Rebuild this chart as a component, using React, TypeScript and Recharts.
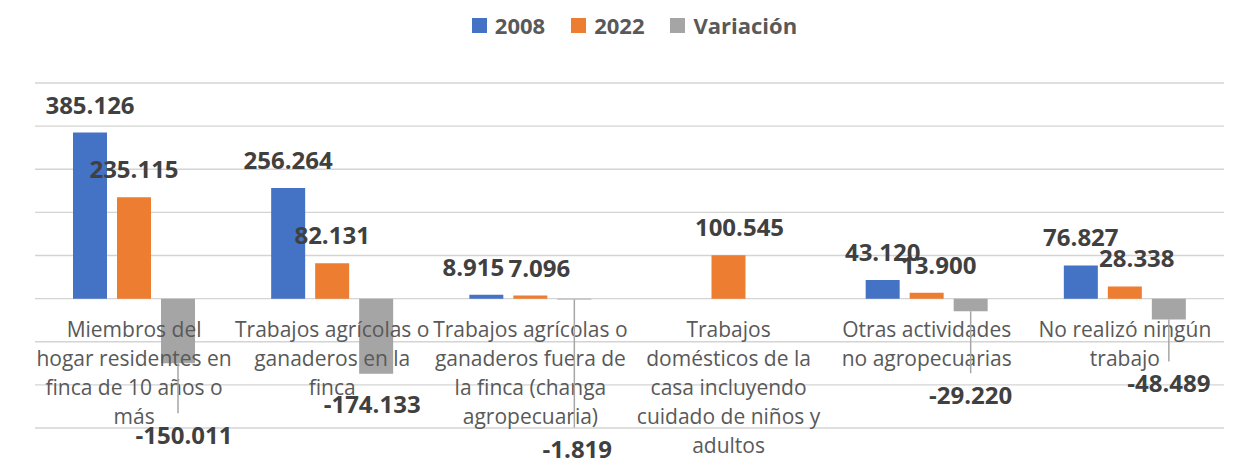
import React from 'react';
import { BarChart, Bar, XAxis, YAxis, CartesianGrid, LabelList, Legend } from 'recharts';

const categories = [
  'Miembros del hogar residentes en finca de 10 años o más',
  'Trabajos agrícolas o ganaderos en la finca',
  'Trabajos agrícolas o ganaderos fuera de la finca (changa agropecuaria)',
  'Trabajos domésticos de la casa incluyendo cuidado de niños y adultos',
  'Otras actividades no agropecuarias',
  'No realizó ningún trabajo',
];
const values2008 = [385.126, 256.264, 8.915, null, 43.12, 76.827];
const values2022 = [235.115, 82.131, 7.096, 100.545, 13.9, 28.338];
const valuesVariacion = [-150.011, -174.133, -1.819, null, -29.22, -48.489];
const yTicks = [-300, -200, -100, 0, 100, 200, 300, 400, 500];

const seriesNames = ['2008', '2022', 'Variación'];
const seriesColors = ['#4472C4', '#ED7D31', '#A5A5A5'];

// label nudges (px), Excel moved a few labels around to avoid overlaps
const dx2008 = [0, 0, -13, 0, 0, 0];
const dx2022 = [0, 0, 9, 11, 12, 12];
const dxVar = [6, -4, 3, 0, 0, 0];
const dropVar = [72, 31, 150, 0, 84, 64];

const W = 1239;
const H = 466;
const MARGIN = { top: 43, right: 15, left: 35, bottom: 0 };
const LEGEND_H = 40;
const X_AXIS_H = 38;
const PLOT_TOP = MARGIN.top + LEGEND_H;
const PLOT_H = H - PLOT_TOP - X_AXIS_H;
const ZERO_Y = PLOT_TOP + (PLOT_H * yTicks[yTicks.length - 1]) / (yTicks[yTicks.length - 1] - yTicks[0]);

const FONT = '"Open Sans", sans-serif';
const CAT_FONT_SIZE = 21;
const WRAP_W = 196;

const data = categories.map((name, i) => ({
  name,
  v2008: values2008[i],
  v2022: values2022[i],
  variacion: valuesVariacion[i],
}));

const fmt = (v: number) => v.toFixed(3);

let ctx: CanvasRenderingContext2D | null = null;
function wrapText(text: string) {
  if (!ctx) ctx = document.createElement('canvas').getContext('2d');
  ctx!.font = `${CAT_FONT_SIZE}px "Open Sans"`;
  const words = text.split(' ');
  const lines: string[] = [];
  let cur = '';
  for (const w of words) {
    const next = cur ? cur + ' ' + w : w;
    if (cur && ctx!.measureText(next).width > WRAP_W) {
      lines.push(cur);
      cur = w;
    } else {
      cur = next;
    }
  }
  if (cur) lines.push(cur);
  return lines;
}

const CategoryTick = (props: any) => {
  const { x, payload } = props;
  const lines = wrapText(String(payload.value));
  return (
    <text x={x} y={ZERO_Y + 38} textAnchor="middle" fill="#595959" fontFamily={FONT} fontSize={CAT_FONT_SIZE}>
      {lines.map((l, i) => (
        <tspan key={i} x={x} dy={i === 0 ? 0 : 29}>
          {l}
        </tspan>
      ))}
    </text>
  );
};

const box = (props: any) => {
  const vb = props.viewBox ?? props;
  const x = Number(vb.x ?? props.x);
  const y = Number(vb.y ?? props.y);
  const width = Number(vb.width ?? props.width);
  const height = Number(vb.height ?? props.height);
  return { x, y, width, height, top: Math.min(y, y + height), bottom: Math.max(y, y + height) };
};

// LabelList skips null points, so find the category position from the value itself
const makeTopLabel = (values: (number | null)[], shifts: number[]) => (props: any) => {
  const { value } = props;
  if (value == null) return null;
  const idx = values.indexOf(Number(value));
  const b = box(props);
  const cx = b.x + b.width / 2 + (shifts[idx] || 0);
  return (
    <text x={cx} y={b.top - 19} textAnchor="middle" fill="#404040" fontFamily={FONT} fontWeight={700} fontSize={24}>
      {fmt(Number(value))}
    </text>
  );
};

const VariationLabel = (props: any) => {
  const { value } = props;
  if (value == null) return null;
  const idx = valuesVariacion.indexOf(Number(value));
  const b = box(props);
  const cx = b.x + b.width / 2;
  const drop = dropVar[idx] || 30;
  const labelY = b.bottom + drop;
  return (
    <g>
      {drop > 40 && (
        <line x1={cx} x2={cx} y1={b.bottom} y2={labelY - 22} stroke="#A6A6A6" strokeWidth={1.5} />
      )}
      <text x={cx + (dxVar[idx] || 0)} y={labelY + 8.5} textAnchor="middle" fill="#404040" fontFamily={FONT} fontWeight={700} fontSize={24}>
        {fmt(Number(value))}
      </text>
    </g>
  );
};

const LegendContent = () => (
  <div
    style={{
      height: LEGEND_H,
      display: 'flex',
      justifyContent: 'center',
      alignItems: 'center',
      paddingLeft: 30,
      fontFamily: FONT,
      fontWeight: 700,
      fontSize: 22,
      color: '#595959',
    }}
  >
    {seriesNames.map((n, i) => (
      <div key={n} style={{ display: 'flex', alignItems: 'center', marginRight: i < seriesNames.length - 1 ? 26 : 0 }}>
        <span style={{ width: 15, height: 15, background: seriesColors[i], display: 'inline-block', marginRight: 8 }} />
        <span>{n}</span>
      </div>
    ))}
  </div>
);

export default function App() {
  return (
    <div style={{ position: 'fixed', left: 0, top: 0, width: W, height: H, background: '#fff' }}>
      <BarChart width={W} height={H} data={data} margin={MARGIN} barGap={10} barCategoryGap={38}>
        <CartesianGrid vertical={false} stroke="#D4D4D4" strokeWidth={1.3} />
        <YAxis hide type="number" domain={[yTicks[0], yTicks[yTicks.length - 1]]} ticks={yTicks} />
        <XAxis dataKey="name" axisLine={false} tickLine={false} interval={0} height={X_AXIS_H} tick={<CategoryTick />} />
        <Legend verticalAlign="top" align="center" content={<LegendContent />} wrapperStyle={{ top: 5, left: 0, width: W }} />
        <Bar dataKey="v2008" name={seriesNames[0]} fill={seriesColors[0]} isAnimationActive={false}>
          <LabelList dataKey="v2008" content={makeTopLabel(values2008, dx2008)} />
        </Bar>
        <Bar dataKey="v2022" name={seriesNames[1]} fill={seriesColors[1]} isAnimationActive={false}>
          <LabelList dataKey="v2022" content={makeTopLabel(values2022, dx2022)} />
        </Bar>
        <Bar dataKey="variacion" name={seriesNames[2]} fill={seriesColors[2]} isAnimationActive={false}>
          <LabelList dataKey="variacion" content={<VariationLabel />} />
        </Bar>
      </BarChart>
    </div>
  );
}
